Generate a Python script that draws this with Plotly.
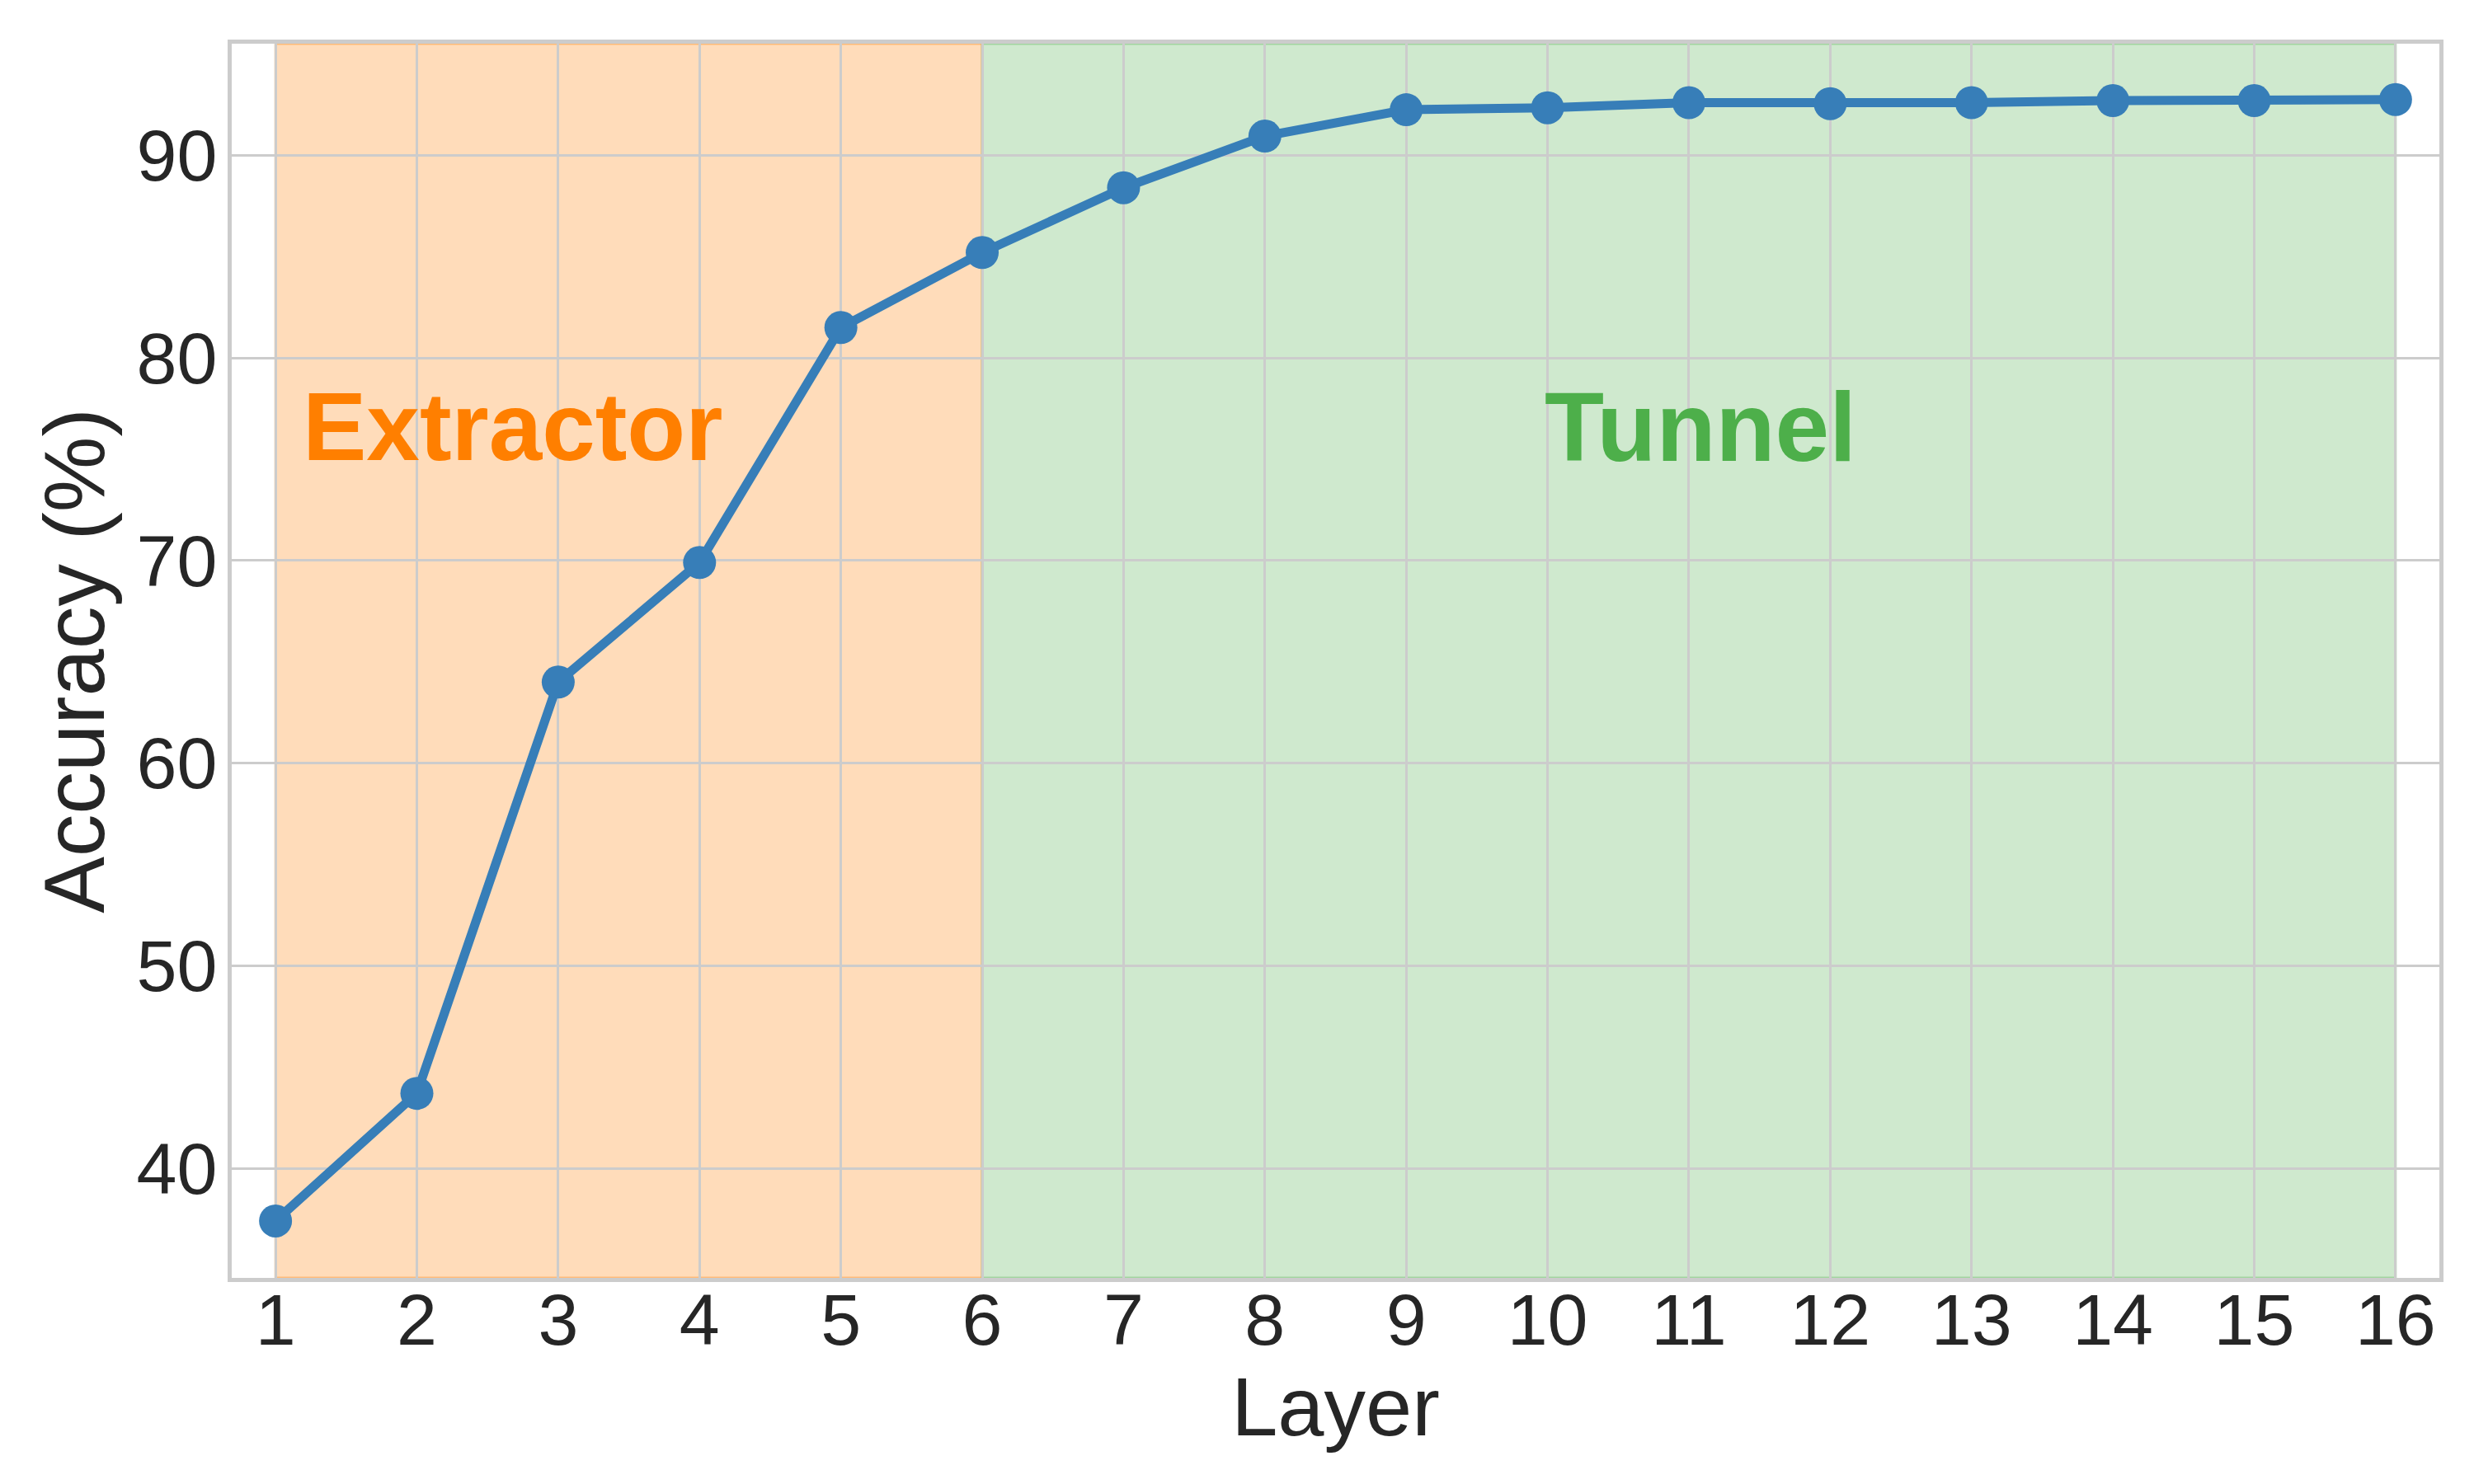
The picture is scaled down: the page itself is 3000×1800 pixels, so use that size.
import plotly.graph_objects as go

# accuracy per layer
layers = list(range(1, 17))
accuracy = [37.4, 43.7, 64.0, 69.9, 81.5, 85.2, 88.4, 90.95, 92.25, 92.35,
            92.6, 92.55, 92.6, 92.7, 92.7, 92.75]

extractor_span = [1, 6]
tunnel_span = [6, 16]
y_ticks = [40, 50, 60, 70, 80, 90]

fig = go.Figure()

# shaded regions (drawn between grid and line)
fig.add_shape(type="rect", xref="x", yref="paper",
              x0=extractor_span[0], x1=extractor_span[1], y0=0, y1=1,
              fillcolor="rgba(255,127,0,0.27)",
              line=dict(color="rgba(255,127,0,0.35)", width=3),
              layer="between")
fig.add_shape(type="rect", xref="x", yref="paper",
              x0=tunnel_span[0], x1=tunnel_span[1], y0=0, y1=1,
              fillcolor="rgba(77,175,74,0.27)",
              line=dict(color="rgba(77,175,74,0.35)", width=3),
              layer="between")

fig.add_trace(go.Scatter(
    x=layers, y=accuracy, mode="lines+markers",
    line=dict(color="#377eb8", width=11),
    marker=dict(color="#377eb8", size=40),
    showlegend=False,
))

fig.add_annotation(x=1.18, y=76.6, xref="x", yref="y", text="<b>Extractor</b>",
                   showarrow=False, xanchor="left", yanchor="middle",
                   font=dict(family="Liberation Sans", size=116, color="#ff7f00"))
fig.add_annotation(x=9.97, y=76.6, xref="x", yref="y", text="<b>Tunnel</b>",
                   showarrow=False, xanchor="left", yanchor="middle",
                   font=dict(family="Liberation Sans", size=118, color="#4daf4a"))

fig.update_layout(
    width=3000, height=1800,
    margin=dict(l=273, r=50, t=45, b=258),
    plot_bgcolor="white", paper_bgcolor="white",
    font=dict(family="Liberation Sans", color="#262626"),
)
fig.update_xaxes(
    range=[0.69, 16.31], tickvals=layers, ticks="",
    tickfont=dict(size=88), ticklabelstandoff=-30,
    title=dict(text="Layer", font=dict(size=101), standoff=22),
    showgrid=True, gridcolor="#cccccc", gridwidth=2.5, zeroline=False,
    showline=True, mirror=True, linecolor="#cccccc", linewidth=5,
)
fig.update_yaxes(
    range=[34.59, 95.51], tickvals=y_ticks, ticks="",
    tickfont=dict(size=88), ticklabelstandoff=-5,
    title=dict(text="Accuracy (%)", font=dict(size=103), standoff=6),
    showgrid=True, gridcolor="#cccccc", gridwidth=2.5, zeroline=False,
    showline=True, mirror=True, linecolor="#cccccc", linewidth=5,
)

fig.write_html("out.html")
